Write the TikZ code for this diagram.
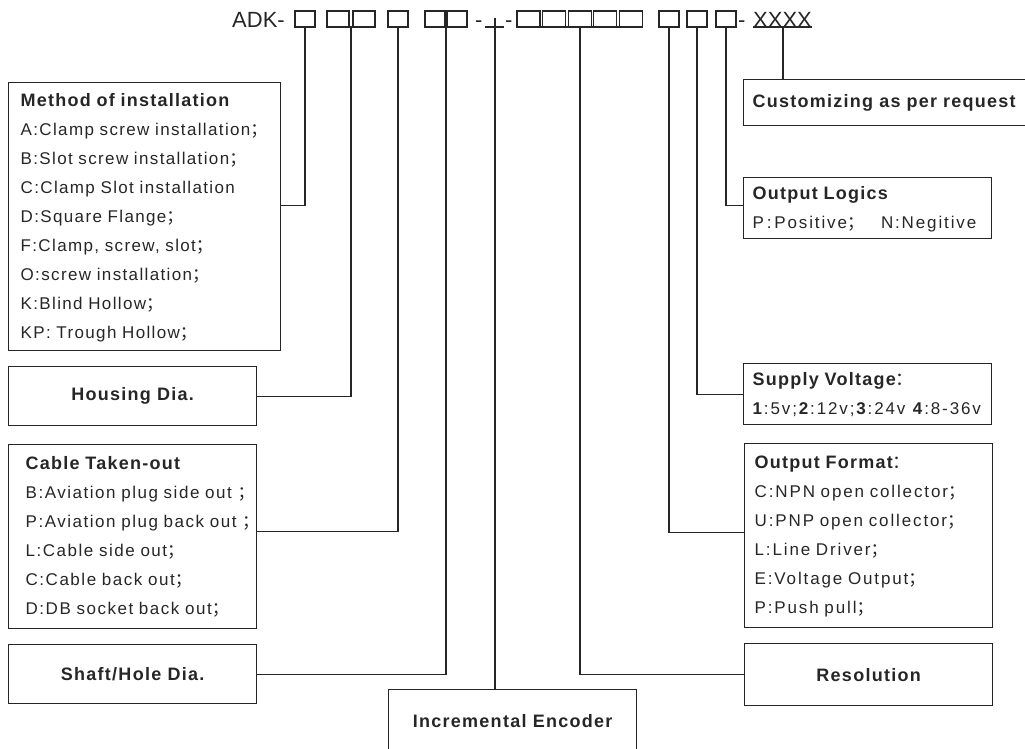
\documentclass[tikz,border=0pt]{standalone}
\usepackage{fontspec}
\usepackage{xcolor}
\usepackage{tikz}
\usetikzlibrary{calc}
\setmainfont{Liberation Sans}
\newfontfamily\cjk{Noto Sans CJK SC}
\newfontfamily\lsA{Liberation Sans}[LetterSpace=8]
\newfontfamily\lsC{Liberation Sans}[LetterSpace=9]
\newfontfamily\lsB{Liberation Sans}[LetterSpace=11]
\newfontfamily\lsT{Liberation Sans}[LetterSpace=7]
\definecolor{ink}{HTML}{262626}
\newcommand{\ttl}[1]{{\lsT\bfseries\fontsize{18}{29}\selectfont #1}}
\newcommand{\semi}{{\cjk\mdseries ；}}
\newcommand{\wcolon}{{\cjk\mdseries ：}}

\begin{document}
\begin{tikzpicture}[x=1pt,y=-1pt,
  wire/.style={draw=ink,line width=1.2pt},
  sq/.style={draw=ink,line width=1.1pt},
  uline/.style={draw=ink,line width=1.4pt},
  box/.style={draw=ink,line width=1.3pt,inner ysep=0pt,anchor=north west,text=ink},
  listbox/.style={box,align=left,inner xsep=12pt,text width=224pt,
    font=\lsB\fontsize{17}{29}\selectfont},
  onebox/.style={box,minimum width=248pt,align=center,
    font=\lsT\bfseries\fontsize{18}{22}\selectfont},
  head/.style={anchor=base west,inner sep=0pt,text=ink,font=\fontsize{22}{26}\selectfont}]
  \useasboundingbox (0,0) rectangle (1025,748);
  % Define coordinates
  \path
    (305,27) coordinate (t1)
    (351,27) coordinate (t2)
    (398,27) coordinate (t3)
    (446,27) coordinate (t4)
    (495,18) coordinate (tI)
    (580,27) coordinate (t5)
    (669,27) coordinate (t6)
    (697,27) coordinate (t7)
    (726,27) coordinate (t8)
    (783,27) coordinate (tX)
  ;
  % Type code
  \node[head] (adk) at (232,27) {ADK-};
  \node[head] (d1) at (475,27) {-};
  \node[head] (d2) at (505,27) {-};
  \node[head] (d3) at (738,27) {-};
  \node[head] (xx) at (753,27) {XXXX};
  \foreach \x/\w in {295/20,327/22,353/22,388/20,425/20,447/20,517/23,542.6/23,
      568.2/23,593.8/23,619.4/23,659/20,687/20,716/20}
    \draw[sq] (\x,11) rectangle ++(\w,16);
  \foreach \a/\b in {294/316,326/376,387/409,424/468,485/504,516/643,658/680,686/708,715/737}
    \draw[uline] (\a,27) -- (\b,27);
  \draw[uline] (xx.base west) -- (xx.base east);
  % Left boxes
  \node[listbox,text width=248pt,minimum height=268pt,font=\lsA\fontsize{17}{29}\selectfont]
    (method) at (8,82)
    {\begin{tabular}{@{}l@{}}
     \ttl{Method of installation}\\
     A:Clamp screw installation\semi\\
     B:Slot screw installation\semi\\
     C:Clamp Slot installation\\
     D:Square Flange\semi\\
     F:Clamp, screw, slot\semi\\
     O:screw installation\semi\\
     K:Blind Hollow\semi\\
     KP: Trough Hollow\semi
     \end{tabular}};
  \node[onebox,minimum height=59pt] (housing) at (8,366) {Housing Dia.};
  \node[listbox,inner xsep=17pt,text width=214pt,minimum height=184pt,
    font=\lsC\fontsize{17}{29}\selectfont] (cable) at (8,444)
    {\begin{tabular}{@{}l@{}}
     \ttl{Cable Taken-out}\\
     B:Aviation plug side out \semi\\
     P:Aviation plug back out \semi\\
     L:Cable side out\semi\\
     C:Cable back out\semi\\
     D:DB socket back out\semi
     \end{tabular}};
  \node[onebox,minimum height=59pt] (shaft) at (8,644) {Shaft/Hole Dia.};
  \node[onebox,minimum height=62pt] (encoder) at (388,689) {Incremental Encoder};
  % Right boxes
  \node[box,align=left,inner xsep=9pt,text width=272pt,minimum height=46pt,
    font=\lsT\bfseries\fontsize{18}{22}\selectfont] (custom) at (743,79)
    {Customizing as per request};
  \node[listbox,minimum height=61pt,inner xsep=9pt,text width=230pt] (logics) at (743,177)
    {\begin{tabular}{@{}l@{}}
     \ttl{Output Logics}\\
     P\,:\,Positive\semi\quad N:Negitive
     \end{tabular}};
  \node[listbox,minimum height=61pt,inner xsep=9pt,text width=230pt] (supply) at (743,363)
    {\begin{tabular}{@{}l@{}}
     \ttl{Supply Voltage\wcolon}\\
     \textbf{1}:5v;\textbf{2}:12v;\textbf{3}:24v \textbf{4}:8-36v
     \end{tabular}};
  \node[listbox,minimum height=184pt,inner xsep=10pt,text width=228pt] (format) at (744,443)
    {\begin{tabular}{@{}l@{}}
     \ttl{Output Format\wcolon}\\
     C:NPN open collector\semi\\
     U:PNP open collector\semi\\
     L:Line Driver\semi\\
     E:Voltage Output\semi\\
     P:Push pull\semi
     \end{tabular}};
  \node[onebox,minimum height=62pt] (resolution) at (744,643) {Resolution};
  % Connectors
  \draw[wire] (t1) |- ([yshift=11pt]method.east);
  \draw[wire] (t2) |- (housing.east);
  \draw[wire] (t3) |- ([yshift=5pt]cable.east);
  \draw[wire] (t4) |- (shaft.east);
  \draw[wire] (tI) -- (tI |- encoder.north);
  \draw[wire] (t5) |- (resolution.west);
  \draw[wire] (t6) |- ([yshift=3pt]format.west);
  \draw[wire] (t7) |- (supply.west);
  \draw[wire] (t8) |- ([yshift=3pt]logics.west);
  \draw[wire] (tX) -- (tX |- custom.north);
\end{tikzpicture}
\end{document}
